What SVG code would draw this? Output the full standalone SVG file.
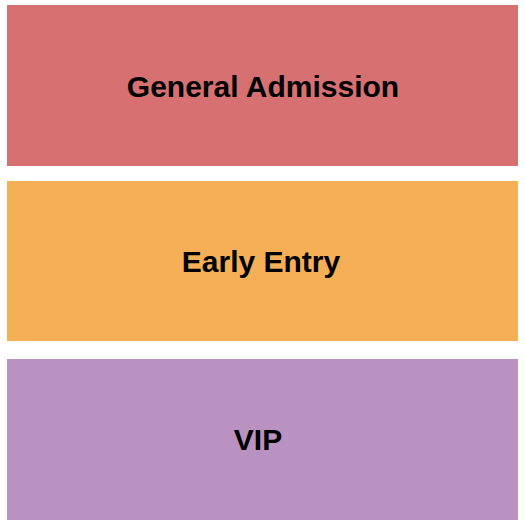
<svg xmlns="http://www.w3.org/2000/svg" width="525" height="525" viewBox="0 0 525 525">
<style>
.lbl{font-family:"Liberation Sans",Arial,sans-serif;font-weight:bold;font-size:30px;fill:#000;text-anchor:middle}
</style>
<rect x="0" y="0" width="525" height="525" fill="#ffffff"/>
<g id="general-admission">
<rect x="7" y="5" width="511" height="161" fill="#D77070"/>
<text class="lbl" x="263" y="97">General Admission</text>
</g>
<g id="early-entry">
<rect x="7" y="181" width="511" height="160" fill="#F5AF56"/>
<text class="lbl" x="261" y="272">Early Entry</text>
</g>
<g id="vip">
<rect x="7" y="359" width="511" height="161" fill="#BA92C1"/>
<text class="lbl" x="258" y="450">VIP</text>
</g>
<g id="connectors"/>
</svg>
